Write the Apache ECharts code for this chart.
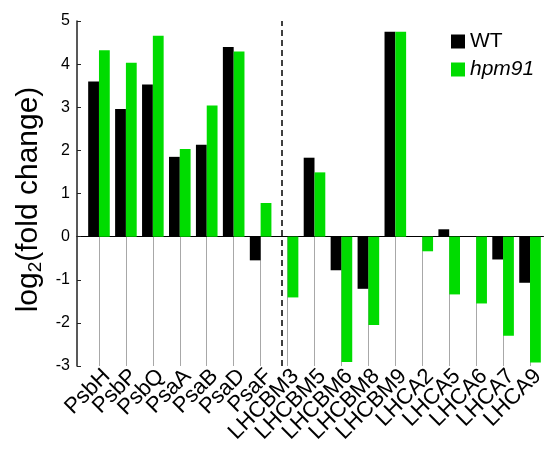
<!DOCTYPE html>
<html>
<head>
<meta charset="utf-8">
<script src="https://cdn.jsdelivr.net/npm/echarts@6/dist/echarts.min.js"></script>
<style>
  html, body { margin: 0; padding: 0; background: #fff; }
  #chart { width: 548px; height: 454px; }
</style>
</head>
<body>
<div id="chart"></div>
<script>
// log2 fold change per protein
const categories = ["PsbH", "PsbP", "PsbQ", "PsaA", "PsaB", "PsaD", "PsaF",
  "LHCBM3", "LHCBM5", "LHCBM6", "LHCBM8", "LHCBM9",
  "LHCA2", "LHCA5", "LHCA6", "LHCA7", "LHCA9"];
const wt = [3.60, 2.96, 3.53, 1.85, 2.13, 4.40, -0.55,
  0, 1.83, -0.78, -1.21, 4.75,
  0, 0.17, 0, -0.53, -1.07];
const hpm91 = [4.32, 4.03, 4.66, 2.03, 3.04, 4.29, 0.78,
  -1.41, 1.49, -2.91, -2.05, 4.75,
  -0.34, -1.34, -1.55, -2.30, -2.92];
const yTicks = { min: -3, max: 5, step: 1 };
const dividerAt = 6.5; // dashed line between PSI and LHC groups

const BLACK = "#000000";
const GREEN = "#00dc00";
const FONT = "Liberation Sans";

const chart = echarts.init(document.getElementById("chart"), null, { renderer: "canvas" });

chart.setOption({
  animation: false,
  backgroundColor: "#fff",
  textStyle: { fontFamily: FONT, color: "#000" },
  legend: {
    orient: "vertical",
    left: 446,
    top: 26,
    icon: "rect",
    itemWidth: 14,
    itemHeight: 14,
    itemGap: 7,
    textStyle: { fontSize: 21, color: "#000", fontFamily: FONT },
    data: [
      { name: "WT" },
      { name: "hpm91", textStyle: { fontStyle: "italic" } },
    ],
  },
  grid: [
    { left: 85.5, right: 4.5, top: 21, bottom: 88 },
    { left: 77, right: 4.5, top: 21, bottom: 88 },
  ],
  xAxis: [
    {
      type: "category",
      gridIndex: 0,
      data: categories,
      position: "bottom",
      axisLine: { show: false, onZero: false },
      axisTick: {
        show: true,
        inside: true,
        length: 129,
        alignWithLabel: true,
        interval: 0,
        lineStyle: { color: "#a8a8a8", width: 1 },
      },
      axisLabel: {
        interval: 0,
        rotate: 45,
        fontSize: 22,
        color: "#000",
        verticalAlign: "top",
        margin: -1,
      },
      splitLine: { show: false },
    },
    {
      type: "value",
      gridIndex: 1,
      min: 0,
      max: 1,
      axisLine: { show: true, onZero: true, lineStyle: { color: "#000", width: 1 } },
      axisTick: { show: false },
      axisLabel: { show: false },
      splitLine: { show: false },
    },
  ],
  yAxis: [
    {
      type: "value",
      gridIndex: 0,
      min: yTicks.min,
      max: yTicks.max,
      interval: yTicks.step,
      show: false,
      splitLine: { show: false },
    },
    {
      type: "value",
      gridIndex: 1,
      min: yTicks.min,
      max: yTicks.max,
      interval: yTicks.step,
      axisLine: { show: true, lineStyle: { color: "#222", width: 1.5 } },
      axisTick: { show: true, inside: true, length: 4, lineStyle: { color: "#222" } },
      axisLabel: { fontSize: 16, color: "#000", margin: 7 },
      splitLine: { show: false },
      name: "{a|log}{b|2}{a|(fold change)}",
      nameLocation: "middle",
      nameRotate: 90,
      nameGap: 31,
      nameTextStyle: {
        padding: [0, 12, 0, 0],
        rich: {
          a: { fontSize: 30, fontFamily: FONT, color: "#000", lineHeight: 32 },
          b: { fontSize: 19, fontFamily: FONT, color: "#000", verticalAlign: "bottom", lineHeight: 19 },
        },
      },
    },
  ],
  series: [
    {
      name: "WT",
      type: "bar",
      xAxisIndex: 0,
      yAxisIndex: 0,
      data: wt,
      barWidth: 10.8,
      barGap: "0%",
      itemStyle: { color: BLACK },
      markLine: {
        silent: true,
        symbol: "none",
        label: { show: false },
        lineStyle: { color: "#000", type: [6, 4], width: 1.5 },
        data: [{ xAxis: dividerAt }],
      },
    },
    {
      name: "hpm91",
      type: "bar",
      xAxisIndex: 0,
      yAxisIndex: 0,
      data: hpm91,
      barWidth: 10.8,
      barGap: "0%",
      itemStyle: { color: GREEN },
    },
  ],
});
</script>
</body>
</html>
